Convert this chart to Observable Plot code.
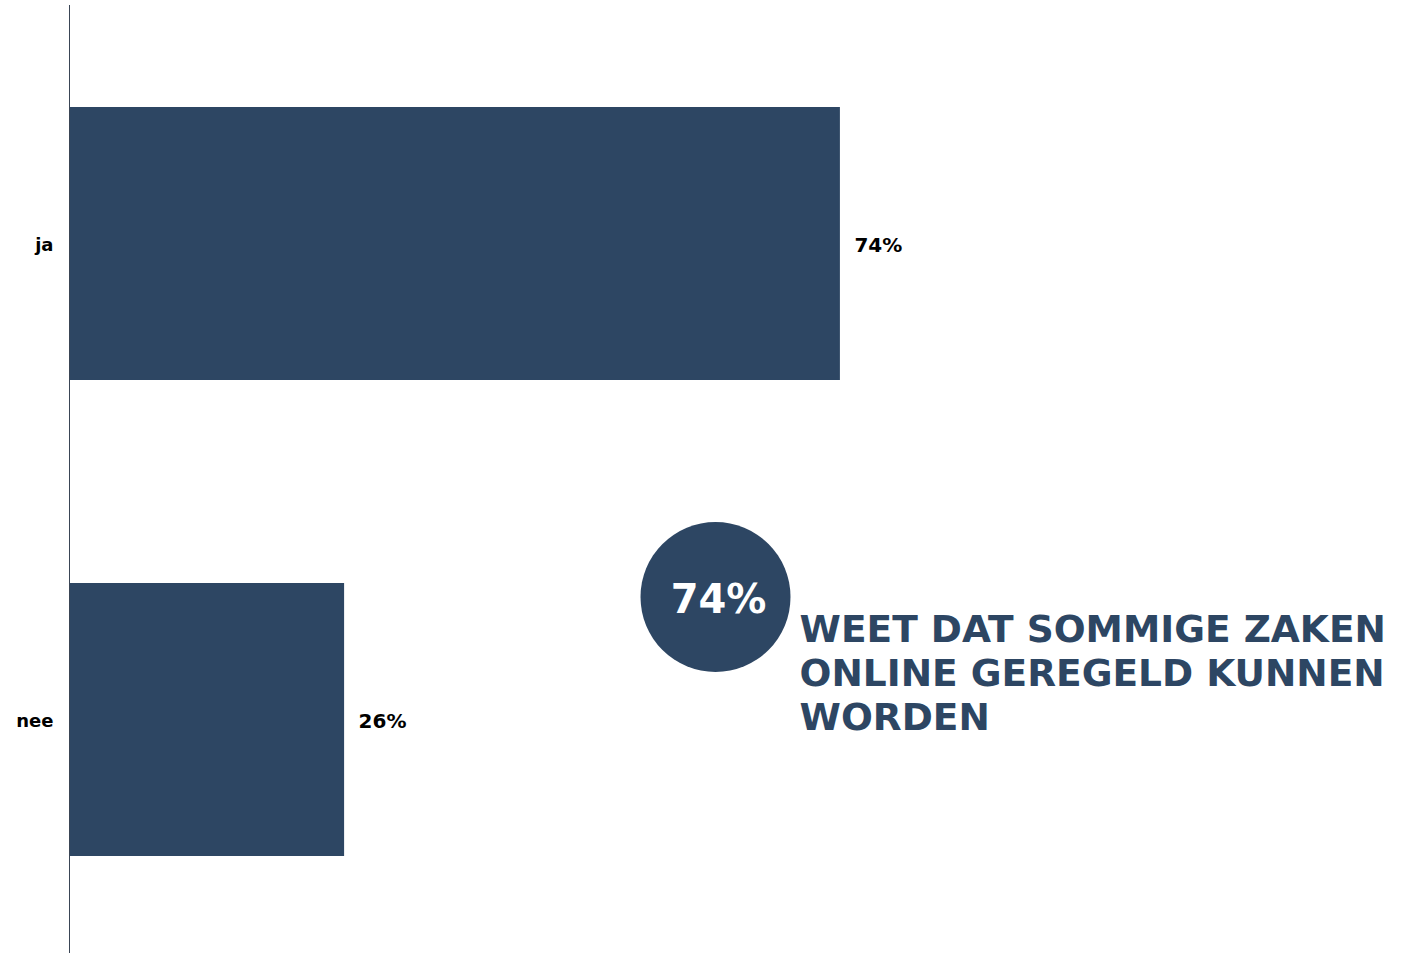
<!DOCTYPE html>
<html>
<head>
<meta charset="utf-8">
<script src="https://cdn.jsdelivr.net/npm/d3@7"></script>
<script src="https://cdn.jsdelivr.net/npm/@observablehq/plot@0.6"></script>
<style>
  html, body { margin: 0; padding: 0; background: #fff; }
  svg { display: block; }
</style>
</head>
<body>
<div id="chart"></div>
<script>
const categories = ["ja", "nee"];
const values = [73.7, 26.3];
const valueLabels = ["74%", "26%"];
const highlightValue = "74%";
const highlightText = "WEET DAT SOMMIGE ZAKEN\nONLINE GEREGELD KUNNEN\nWORDEN";

const color = "#2d4663";
const font = "'DejaVu Sans', Verdana, sans-serif";

const data = categories.map((c, i) => ({ category: c, value: values[i], label: valueLabels[i] }));

const chart = Plot.plot({
  width: 1404,
  height: 953,
  marginTop: 5,
  marginBottom: 0,
  marginLeft: 69,
  marginRight: 289,
  style: { fontFamily: font, background: "#fff", overflow: "visible" },
  x: { domain: [0, 100], axis: null },
  y: { domain: categories, range: [5, 958], paddingInner: 0.4265, paddingOuter: 0.2143, label: null },
  marks: [
    Plot.barX(data, { x: "value", y: "category", fill: color }),
    Plot.ruleX([0], { stroke: "#3a4555", strokeWidth: 1 }),
    Plot.axisY({ tickSize: 0, tickPadding: 16, fontSize: 18, fontWeight: "bold", fill: "#000", label: null, dy: 1 }),
    Plot.text(data, { x: "value", y: "category", text: "label", textAnchor: "start", dx: 14, dy: 2, fontSize: 20, fontWeight: "bold", fill: "#000" }),
    Plot.dot([{ x: 61.76, y: "nee" }], { x: "x", y: "y", r: 75, fill: color, dy: -123 }),
    Plot.text([{ x: 61.76, y: "nee", t: highlightValue }], { x: "x", y: "y", text: "t", dy: -120, dx: 3, fill: "#fff", fontSize: 40, fontWeight: "bold" }),
    Plot.text([{ x: 69.8, y: "nee", t: highlightText }], { x: "x", y: "y", text: "t", textAnchor: "start", lineAnchor: "top", lineHeight: 1.173, dy: -109, fill: color, fontSize: 37.5, fontWeight: "bold" })
  ]
});
document.getElementById("chart").appendChild(chart);
</script>
</body>
</html>
